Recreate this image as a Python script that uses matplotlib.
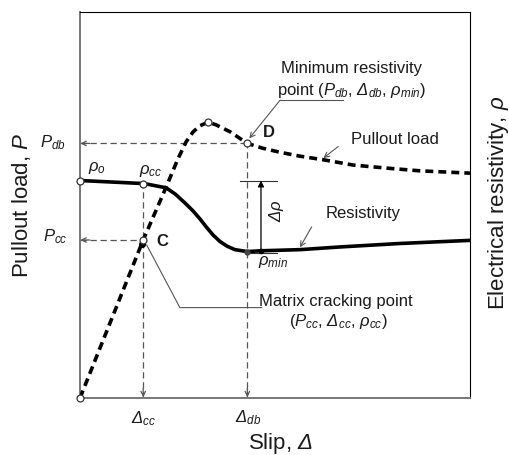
import matplotlib
matplotlib.use("Agg")
import matplotlib.pyplot as plt

plt.rcParams['font.family'] = ['Liberation Sans', 'DejaVu Sans']
plt.rcParams['mathtext.fontset'] = 'custom'
plt.rcParams['mathtext.it'] = 'Liberation Sans:italic'
plt.rcParams['mathtext.rm'] = 'Liberation Sans:italic'
plt.rcParams['mathtext.sf'] = 'Liberation Sans:italic'

# ---- data (axes scaled 0..100) ----
pull_slip = [0, 16.2, 22.0, 25.1, 27.2, 29.0, 30.8, 32.9, 34.9, 38.5, 42.9,
             46.7, 51.3, 56.4, 62.8, 70.0, 78.7, 87.2, 100]
pull_load = [0, 40.9, 54.4, 61.9, 66.3, 68.9, 70.5, 71.4, 70.7, 68.9, 65.9,
             64.7, 63.6, 62.6, 61.6, 60.3, 59.5, 58.8, 58.2]

res_slip = [0, 16.5, 22.1, 24.4, 26.9, 29.0, 30.8, 32.6, 34.1, 35.9, 37.7,
            39.7, 42.9, 46.2, 56.4, 66.7, 82.1, 100]
res_val = [56.3, 55.5, 54.4, 52.8, 50.5, 48.4, 46.3, 44.0, 42.2, 40.5, 39.3,
           38.4, 37.9, 38.1, 38.4, 39.1, 40.0, 40.8]

# key points
d_cc, d_db = 16.2, 42.9          # slips
p_cc, p_db = 40.9, 65.9          # loads
rho_o, rho_cc, rho_min = 56.3, 55.5, 37.9
open_pts_x = [0, 0, d_cc, d_cc, 32.9, d_db]
open_pts_y = [0, rho_o, rho_cc, p_cc, 71.4, p_db]

fig = plt.figure(figsize=(5.1, 4.55), dpi=100)
ax = fig.add_axes([0.1569, 0.1253, 0.7647, 0.849])
ax.set_xlim(0, 100)
ax.set_ylim(0, 100)
ax.set_xticks([])
ax.set_yticks([])
for s in ['top', 'right']:
    ax.spines[s].set_color('black')
    ax.spines[s].set_linewidth(0.8)
for s in ['left', 'bottom']:
    ax.spines[s].set_color('#777777')
    ax.spines[s].set_linewidth(1.4)

guide = dict(color='#555555', lw=0.9, ls=(0, (5, 3)))
# dashed guides
ax.plot([0, d_db], [p_db, p_db], **guide)
ax.plot([0, d_cc], [p_cc, p_cc], **guide)
ax.plot([d_cc, d_cc], [0, rho_cc], **guide)
ax.plot([d_db, d_db], [0, p_db], **guide)
head = dict(arrowstyle='->', color='#555555', lw=0.9, mutation_scale=8,
            shrinkA=0, shrinkB=0)
for (x0, y0, x1, y1) in [(2.5, p_db, 0.1, p_db), (2.5, p_cc, 0.1, p_cc),
                         (d_cc, 2.5, d_cc, 0.2), (d_db, 2.5, d_db, 0.2)]:
    ax.annotate('', xy=(x1, y1), xytext=(x0, y0), arrowprops=head)

# curves
ax.plot(pull_slip, pull_load, color='black', lw=2.6, ls=(0, (2.2, 1.4)),
        dash_capstyle='butt', zorder=3)
ax.plot(res_slip, res_val, color='black', lw=2.6, zorder=3,
        solid_joinstyle='round')

# markers
ax.plot(open_pts_x, open_pts_y, 'o', ms=5, mfc='white', mec='#333333',
        mew=0.9, zorder=5, clip_on=False)
ax.plot([16.0], [39.8], 'o', ms=4, color='black', zorder=4)
ax.plot([d_db], [rho_min], 'o', ms=3.5, color='#444444', zorder=4)

# delta rho bracket
ax.plot([41.0, 50.6], [rho_o, rho_o], color='#333333', lw=0.8)
ax.plot([43.1, 50.4], [37.5, 37.5], color='#333333', lw=0.8)
ax.annotate('', xy=(46.4, rho_o), xytext=(46.4, rho_min + 0.2),
            arrowprops=dict(arrowstyle='-|>', color='black', lw=0.9,
                            mutation_scale=9, shrinkA=0, shrinkB=0))
ax.plot([46.4], [rho_min + 0.2], 'o', ms=3, color='black')

# leader lines
lead = dict(color='#555555', lw=0.8)
ax.plot([51.3, 67.5], [77.1, 77.1], **lead)
ax.plot([17.1, 25.6, 46.6], [39.6, 23.4, 23.4], **lead)
la = dict(arrowstyle='->', color='#555555', lw=0.8, mutation_scale=9,
          shrinkA=0, shrinkB=0)
ax.annotate('', xy=(43.4, 67.2), xytext=(51.3, 77.1), arrowprops=la)
ax.annotate('', xy=(62.4, 62.1), xytext=(66.2, 65.1), arrowprops=la)
ax.annotate('', xy=(56.4, 39.0), xytext=(59.4, 44.3), arrowprops=la)

tc = '#1a1a1a'
fs = 12
ax.text(4.4, 59.5, r'$ρ_o$', fontsize=fs, ha='center', va='center', color=tc)
ax.text(18.1, 58.8, r'$ρ_{cc}$', fontsize=fs, ha='center', va='center', color=tc)
ax.text(21.2, 40.4, 'C', fontsize=fs, fontweight='bold', ha='center', va='center', color=tc)
ax.text(48.5, 68.7, 'D', fontsize=fs, fontweight='bold', ha='center', va='center', color=tc)
ax.text(80.8, 67.0, 'Pullout load', fontsize=fs, ha='center', va='center', color=tc)
ax.text(72.6, 47.8, 'Resistivity', fontsize=fs, ha='center', va='center', color=tc)
ax.text(49.6, 35.2, r'$ρ_{min}$', fontsize=fs, ha='center', va='center', color=tc)
ax.text(50.3, 48.4, r'$Δρ$', fontsize=fs, ha='center', va='center', rotation=90, color=tc)
ax.text(69.7, 85.3, 'Minimum resistivity', fontsize=fs, ha='center', va='center', color=tc)
ax.text(69.7, 79.7, r'point ($P_{db}$, $Δ_{db}$, $ρ_{min}$)', fontsize=fs,
        ha='center', va='center', color=tc)
ax.text(65.6, 25.0, 'Matrix cracking point', fontsize=fs, ha='center', va='center', color=tc)
ax.text(66.2, 19.8, r'($P_{cc}$, $Δ_{cc}$, $ρ_{cc}$)', fontsize=fs,
        ha='center', va='center', color=tc)
ax.text(-6.9, p_db + 0.3, r'$P_{db}$', fontsize=fs, ha='center', va='center', color=tc, clip_on=False)
ax.text(-6.4, p_cc + 0.8, r'$P_{cc}$', fontsize=fs, ha='center', va='center', color=tc, clip_on=False)
ax.text(d_cc, -5.3, r'$Δ_{cc}$', fontsize=fs, ha='center', va='center', color=tc, clip_on=False)
ax.text(d_db + 0.3, -5.0, r'$Δ_{db}$', fontsize=fs, ha='center', va='center', color=tc, clip_on=False)

# axis labels
fig.text(280 / 510, 1 - 449 / 455, r'Slip, $Δ$', fontsize=16, ha='center',
         va='baseline', color=tc)
fig.text(28 / 510, 1 - 205 / 455, r'Pullout load, $P$', fontsize=16,
         rotation=90, rotation_mode='anchor', ha='center', va='baseline', color=tc)
fig.text(504 / 510, 1 - 203 / 455, r'Electrical resistivity, $ρ$', fontsize=16,
         rotation=90, rotation_mode='anchor', ha='center', va='baseline', color=tc)

fig.savefig('out.png', dpi=100)
